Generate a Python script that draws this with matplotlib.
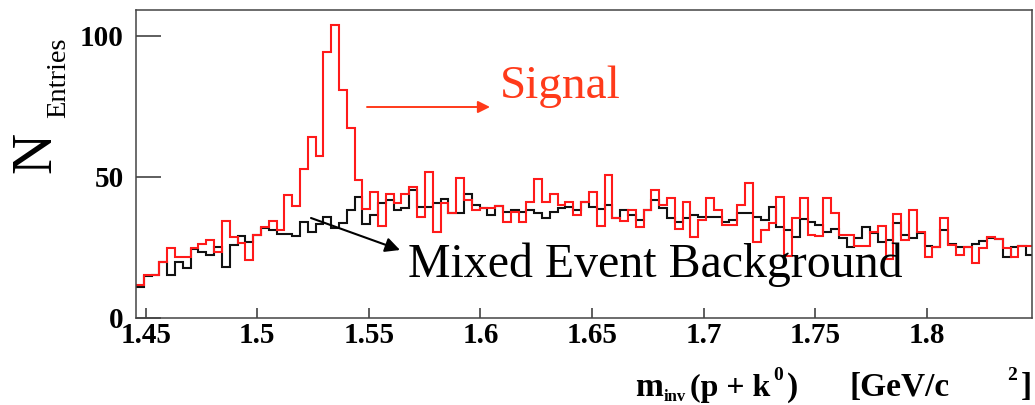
import numpy as np
import matplotlib.pyplot as plt

# histogram binning
x_start = 1.4456
bin_w = 0.0035

# mixed event background (black)
background = [11.1, 14.9, 15.2, 20, 15.2, 20, 17.6, 24.4, 23.5, 22.3,
              25.3, 18.2, 25.9, 29.2, 27, 29.4, 31.8, 31.2, 29.7, 29.7,
              29.2, 34, 30.6, 33.4, 35.9, 32, 33.7, 38.3, 43, 33.5,
              36.5, 40.8, 42, 38.2, 39, 45.5, 39.2, 39.5, 40.7, 42.2,
              37.1, 37.1, 44, 40.1, 38.9, 36.5, 39.7, 37.7, 38.3, 37.7,
              38.3, 37.1, 35.3, 37.7, 38.9, 39.5, 38.3, 41.2, 39.5, 38.5,
              40.1, 35.3, 38.3, 36.5, 34.8, 38.3, 41.8, 38.9, 35.3, 34.2,
              35.3, 36.5, 35.9, 35.9, 35.9, 34.2, 34.8, 37.4, 37.1, 35.9,
              34.8, 39.5, 32.4, 31.2, 28.6, 35.1, 34.2, 33, 30.6, 31.4,
              28.2, 25.3, 28.2, 32.1, 30.3, 27.1, 27.6, 33.6, 29.4, 28.2,
              30, 25.5, 25.3, 31.2, 26.2, 25.3, 25.1, 26.1, 27.4, 28.2,
              27.9, 21.8, 25.3, 25.5, 22.3]

# signal (red)
signal = [11.7, 15.2, 15.2, 20, 24.7, 21.7, 21.7, 24.7, 26.2, 27.7,
          23.5, 34.5, 28.8, 26.5, 20.6, 29.4, 32.2, 34.5, 31.3, 43.6,
          39.8, 52.8, 64, 57.6, 94.4, 103.9, 80.9, 67.3, 48.9, 38.5,
          44.8, 32.6, 43.9, 40.7, 43.9, 46.6, 35.7, 51.7, 30.6, 40.9,
          37.1, 49.5, 41.8, 38.3, 38.9, 38.9, 39.7, 34.2, 37.7, 34.2,
          41.2, 49.3, 41.2, 43.9, 40.1, 41.2, 36.5, 41.2, 44.8, 32.6,
          50.7, 35.3, 34.4, 38.4, 32.4, 38.3, 45.4, 40.1, 42.4, 31.4,
          41.2, 28.6, 34.8, 42.4, 38.3, 33, 33, 40.1, 47.8, 27.1,
          31.2, 33.6, 43, 22, 35.3, 42.4, 29.4, 28.9, 42.4, 37.1,
          29.5, 29.5, 25.7, 25.7, 30.6, 32.6, 20.8, 36.8, 27.6, 38.3,
          30.6, 21.8, 25.3, 35.3, 25.9, 22.3, 25.3, 19.4, 24.7, 28.6,
          27.9, 24.7, 21.8, 25.5, 25.5]

xticks = [1.45, 1.5, 1.55, 1.6, 1.65, 1.7, 1.75, 1.8]
xtick_labels = ["1.45", "1.5", "1.55", "1.6", "1.65", "1.7", "1.75", "1.8"]
yticks = [0, 50, 100]

edges = x_start + bin_w * np.arange(len(signal) + 1)

W, H = 1035, 405
def fx(x):
    return x / W
def fy(y):
    return 1 - y / H

plt.rcParams['font.family'] = 'Liberation Serif'

fig = plt.figure(figsize=(10.35, 4.05), dpi=100)
ax = fig.add_axes([fx(136), fy(318), (1032 - 136) / W, (318 - 10) / H])

ax.stairs(background, edges, baseline=None, color='#111111', lw=1.5)
ax.stairs(signal, edges, baseline=None, color='#ff1a1a', lw=1.5)

ax.set_xlim(1.4456, 1.8472)
ax.set_ylim(0, 109.2)

ax.set_xticks(xticks)
ax.set_xticklabels(xtick_labels)
ax.set_yticks(yticks)
ax.tick_params(axis='x', direction='in', length=7, width=1.1, pad=3,
               labelsize=21, color='#333333')
ax.tick_params(axis='y', direction='in', length=18, width=1.1, pad=9,
               labelsize=21, color='#333333')
for lab in ax.get_xticklabels() + ax.get_yticklabels():
    lab.set_fontweight('bold')
for s in ax.spines.values():
    s.set_linewidth(1.1)
    s.set_color('#444444')

# y axis title
fig.text(fx(36), fy(152), "N", rotation=90, ha='center', va='center', fontsize=41)
fig.text(fx(59), fy(78), "Entries", rotation=90, ha='center', va='center', fontsize=20.5)

# x axis title, pieced together
xl = [("m", 635, 396, 24), ("inv", 664, 401, 12), ("(p + k", 690, 396, 23),
      ("0", 773, 380, 14), (")", 787, 396, 24), ("[GeV/c", 850, 396, 24),
      ("2", 1007, 380, 14), ("]", 1021, 396, 24)]
for t, x, y, s in xl:
    fig.text(fx(x), fy(y), t, ha='left', va='baseline', fontsize=s, fontweight='bold')

# annotations
sig_col = '#ff3a1a'
fig.text(fx(500), fy(98), "Signal", color=sig_col, fontsize=34, ha='left', va='baseline')
ax.annotate("", xy=(fx(490), fy(107)), xycoords='figure fraction',
            xytext=(fx(367), fy(107)), textcoords='figure fraction',
            arrowprops=dict(arrowstyle='-|>', color=sig_col, lw=1.4, mutation_scale=18,
                            shrinkA=0, shrinkB=0))
fig.text(fx(408), fy(277), "Mixed Event Background", color='black', fontsize=34.5,
         ha='left', va='baseline')
ax.annotate("", xy=(fx(400), fy(250)), xycoords='figure fraction',
            xytext=(fx(311), fy(218)), textcoords='figure fraction',
            arrowprops=dict(arrowstyle='-|>', color='black', lw=1.5, mutation_scale=22,
                            shrinkA=0, shrinkB=0))

fig.savefig("out.png", dpi=100, facecolor='white')
